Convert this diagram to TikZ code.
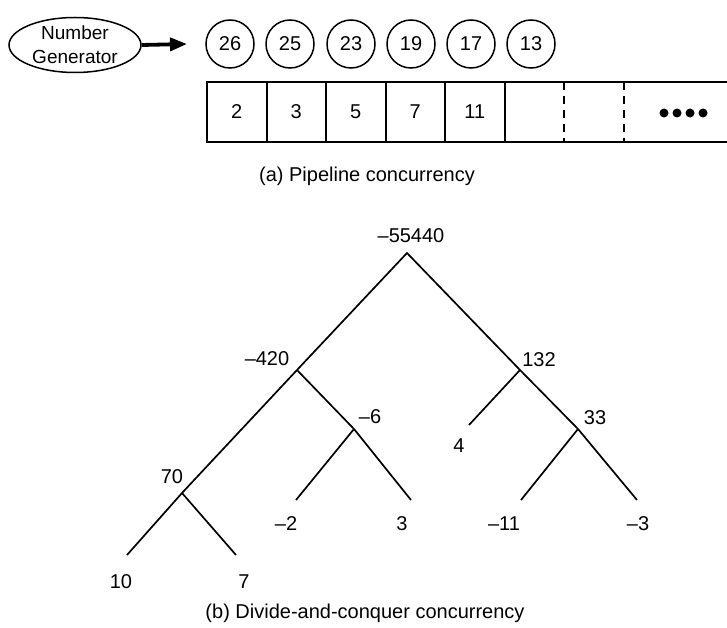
\documentclass[tikz,border=0pt]{standalone}
\usepackage{fontspec}
\setmainfont{Liberation Sans}
\usetikzlibrary{arrows.meta,shapes.geometric}
\begin{document}
\begin{tikzpicture}[x=1pt,y=-1pt,
  font=\fontsize{20}{24}\selectfont,
  circnode/.style={circle,draw,line width=1.5pt,minimum size=48pt,inner sep=0pt},
  celltext/.style={inner sep=0pt},
  lbl/.style={inner sep=0pt},
  boxline/.style={line width=2pt},
  dashline/.style={line width=2pt,dash pattern=on 8pt off 6pt},
  treeline/.style={line width=1.7pt},
  dotnode/.style={circle,fill,inner sep=0pt,minimum size=9pt}]
\useasboundingbox (0,0) rectangle (727,628);
% ---------- (a) pipeline ----------
\node[ellipse,draw,line width=1.5pt,minimum width=132pt,minimum height=55pt,
      inner sep=0pt,align=center,font=\fontsize{19}{24}\selectfont] (gen) at (75,45) {Number\\Generator};
\coordinate (tip) at (187,44);
\draw[line width=3.8pt,-{Triangle[length=17pt,width=13pt]}] (gen.east) -- (tip);
\foreach \n/\x [count=\i] in {26/230,25/290,23/351,19/411,17/471,13/531}
  \node[circnode] (c\i) at (\x,44) {\n};
% box outline
\coordinate (b0t) at (207,82);   \coordinate (b0b) at (207,142);
\coordinate (ret) at (727,82);   \coordinate (reb) at (727,142);
\draw[boxline] (ret) -- (b0t) -- (b0b) -- (reb);
\foreach \i/\x in {1/266.5,2/326,3/385.5,4/445,5/504.5}{
  \coordinate (d\i t) at (\x,82); \coordinate (d\i b) at (\x,142);
  \draw[boxline] (d\i t) -- (d\i b);
}
\foreach \i/\x in {6/564,7/623.5}{
  \coordinate (d\i t) at (\x,82); \coordinate (d\i b) at (\x,142);
  \draw[dashline] (d\i t) -- (d\i b);
}
\foreach \n/\x [count=\i] in {2/236.75,3/296.25,5/355.75,7/415.25,11/474.75}
  \node[celltext] (v\i) at (\x,112) {\n};
\foreach \x [count=\i] in {664,677,690,703}
  \node[dotnode] (dot\i) at (\x,113) {};
\node[lbl] (capa) at (367,176) {(a) Pipeline concurrency};
% ---------- (b) divide and conquer ----------
\coordinate (A) at (407,253);
\coordinate (L) at (297,370);
\coordinate (R) at (520,370);
\coordinate (M) at (354,429);
\coordinate (S) at (578,429);
\coordinate (N) at (182,493);
\coordinate (e4) at (469,425);
\coordinate (em2) at (296,500);
\coordinate (e3) at (411,500);
\coordinate (em11) at (521,500);
\coordinate (em3) at (637,500);
\coordinate (e10) at (127,555);
\coordinate (e7) at (236,555);
\draw[treeline] (e10) -- (N) -- (L) -- (A) -- (R) -- (S) -- (em3);
\draw[treeline] (L) -- (M) -- (e3);
\draw[treeline] (M) -- (em2);
\draw[treeline] (N) -- (e7);
\draw[treeline] (R) -- (e4);
\draw[treeline] (S) -- (em11);
\node[lbl] (tA) at (411,236) {–55440};
\node[lbl] (tL) at (267,359) {–420};
\node[lbl] (tR) at (539,360) {132};
\node[lbl] (tM) at (370,417) {–6};
\node[lbl] (tS) at (595,418) {33};
\node[lbl] (t4) at (459,446) {4};
\node[lbl] (tN) at (172,477) {70};
\node[lbl] (tm2) at (286,524) {–2};
\node[lbl] (t3) at (402,524) {3};
\node[lbl] (tm11) at (504,524) {–11};
\node[lbl] (tm3) at (638,524) {–3};
\node[lbl] (t10) at (121,582) {10};
\node[lbl] (t7) at (244,582) {7};
\node[lbl] (capb) at (365,613) {(b) Divide-and-conquer concurrency};
\end{tikzpicture}
\end{document}
